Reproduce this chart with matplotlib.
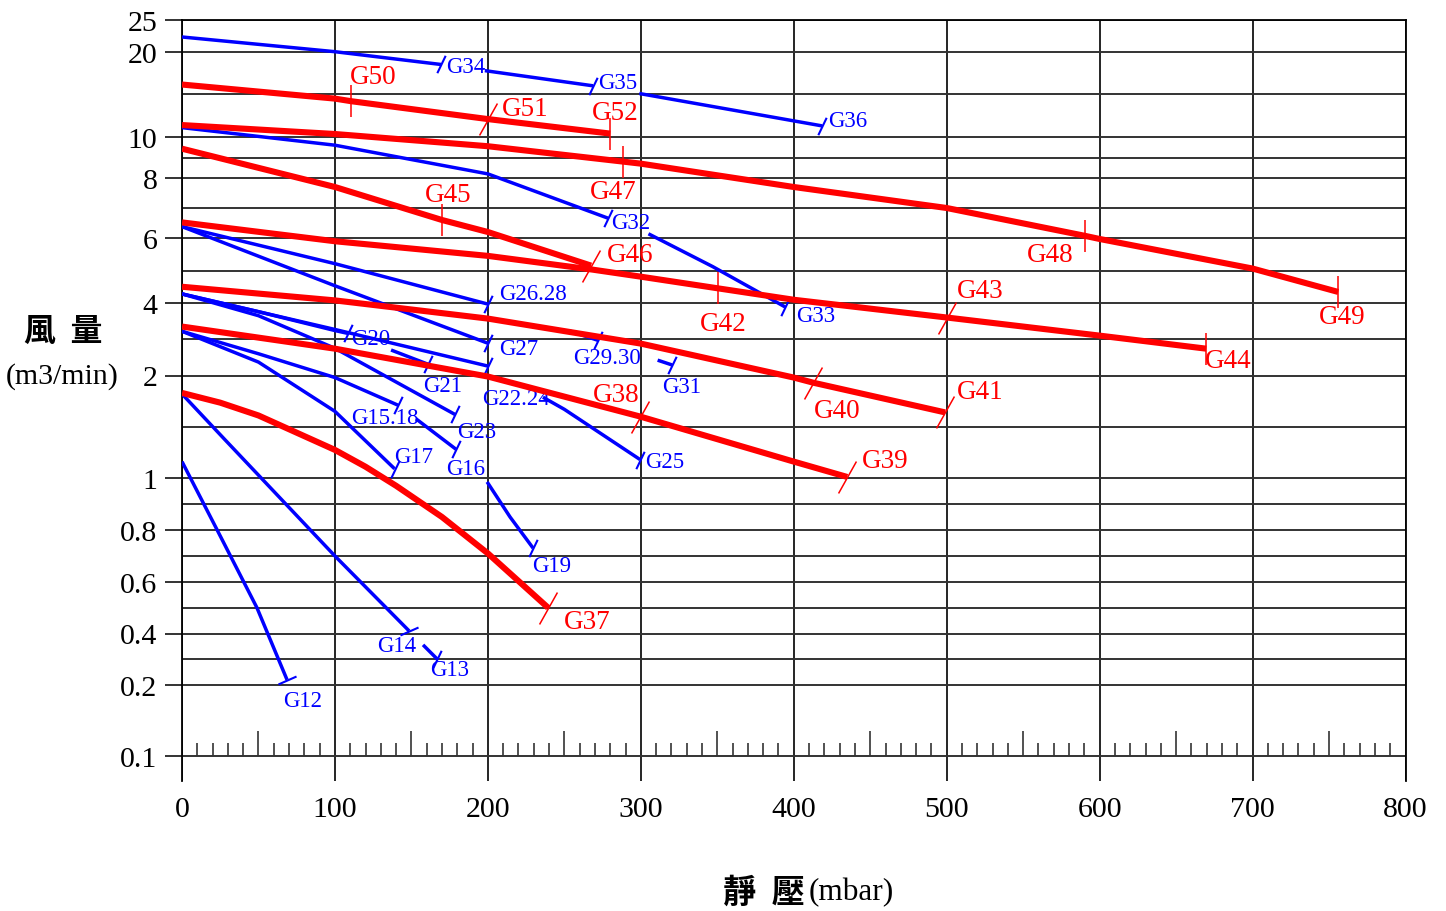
import numpy as np

import matplotlib
matplotlib.use('Agg')
import matplotlib.pyplot as plt
from matplotlib.path import Path

plt.rcParams['font.family'] = ['Liberation Serif', 'Noto Sans CJK TC']

# static pressure (mbar) and air flow (m3/min)
# blue curves
g34_p = [0, 100, 169.4, 268.8, 299, 418.6]
g34_q = [22.3, 20.0, 18.5, 16.0, 15.1, 11.3]
g34_marks = [('G34', 169.4), ('G35', 268.8), ('G36', 418.6)]

g32_p = [0, 100, 200, 278.6, 305, 347, 394.4]
g32_q = [11.1, 9.6, 8.2, 6.66, 6.14, 5.12, 3.89]
g32_marks = [('G32', 278.6), ('G33', 394.4)]

g26_p = [0, 100, 200, 272, 320.5]
g26_q = [6.38, 5.21, 3.97, 2.97, 2.29]
g26_marks = [('G26.28', 200), ('G29.30', 272), ('G31', 320.5)]

g27_p = [0, 100, 200]
g27_q = [6.38, 4.53, 2.89]
g27_marks = [('G27', 200)]

g22_p = [0, 100, 200, 250, 299.5]
g22_q = [4.28, 3.27, 2.26, 1.67, 1.18]
g22_marks = [('G22.24', 200), ('G25', 299.5)]

g20_p = [0, 50, 100, 108.6, 160.9]
g20_q = [4.28, 3.76, 3.24, 3.16, 2.31]
g20_marks = [('G20', 108.6), ('G21', 160.9)]

g23_p = [0, 50, 100, 178.5]
g23_q = [4.28, 3.65, 2.75, 1.62]
g23_marks = [('G23', 178.5)]

g15_p = [0, 50, 100, 141.3, 179.2, 199.5, 214.5, 229.6]
g15_q = [3.22, 2.6, 1.98, 1.71, 1.28, 0.985, 0.85, 0.73]
g15_marks = [('G15.18', 141.3), ('G16', 179.2), ('G19', 229.6)]

g17_p = [0, 50, 100, 139]
g17_q = [3.22, 2.37, 1.65, 1.09]
g17_marks = [('G17', 139)]

g14_p = [0, 28, 100, 148.5, 167]
g14_q = [1.82, 1.375, 0.70, 0.41, 0.30]
g14_marks = [('G14', 148.5), ('G13', 167)]

g12_p = [0, 23, 49, 68.7]
g12_q = [1.16, 0.8, 0.5, 0.22]
g12_marks = [('G12', 68.7)]

# red curves
g50_p = [0, 100, 110.5, 200, 280]
g50_q = [16.15, 14.5, 14.2, 12.1, 10.4]
g50_marks = [('G50', 110.5), ('G51', 200), ('G52', 280)]

g47_p = [0, 100, 200, 288.4, 300, 400, 500, 590.6, 600, 700, 756]
g47_q = [11.4, 10.35, 9.55, 8.8, 8.7, 7.7, 7.0, 6.07, 5.97, 5.06, 4.34]
g47_marks = [('G47', 288.4), ('G48', 590.6), ('G49', 756)]

g45_p = [0, 100, 170, 200, 267.5]
g45_q = [9.43, 7.7, 6.6, 6.2, 5.15]
g45_marks = [('G45', 170), ('G46', 267.5)]

g42_p = [0, 100, 200, 268, 300, 350.6, 400, 500, 600, 669.7]
g42_q = [6.52, 5.9, 5.45, 5.03, 4.81, 4.45, 4.1, 3.6, 3.1, 2.74]
g42_marks = [('G42', 350.6), ('G43', 500.3), ('G44', 669.7)]

g40_p = [0, 100, 200, 300, 400, 412.7, 499]
g40_q = [4.5, 4.08, 3.57, 2.88, 1.98, 1.93, 1.64]
g40_marks = [('G40', 412.7), ('G41', 499)]

g38_p = [0, 100, 200, 299.5, 400, 435]
g38_q = [3.35, 2.74, 1.99, 1.6, 1.16, 1.01]
g38_marks = [('G38', 299.5), ('G39', 435)]

g37_p = [0, 25, 50, 100, 120, 140, 170, 200, 239.4]
g37_q = [1.83, 1.735, 1.61, 1.274, 1.11, 0.97, 0.85, 0.71, 0.50]
g37_marks = [('G37', 239.4)]

x_ticks = list(range(0, 801, 100))
y_major = [0.1, 0.2, 0.4, 0.6, 0.8, 1, 2, 4, 6, 8, 10, 20, 25]
y_labels = ['0.1', '0.2', '0.4', '0.6', '0.8', '1', '2', '4', '6', '8', '10', '20', '25']
y_minor = [0.3, 0.5, 0.7, 0.9, 1.5, 3, 5, 7, 9, 15]

blue = [(g34_p, g34_q, g34_marks), (g32_p, g32_q, g32_marks),
        (g26_p, g26_q, g26_marks), (g27_p, g27_q, g27_marks),
        (g22_p, g22_q, g22_marks), (g20_p, g20_q, g20_marks),
        (g23_p, g23_q, g23_marks), (g15_p, g15_q, g15_marks),
        (g17_p, g17_q, g17_marks), (g14_p, g14_q, g14_marks),
        (g12_p, g12_q, g12_marks)]
red = [(g50_p, g50_q, g50_marks), (g47_p, g47_q, g47_marks),
       (g45_p, g45_q, g45_marks), (g42_p, g42_q, g42_marks),
       (g40_p, g40_q, g40_marks), (g38_p, g38_q, g38_marks),
       (g37_p, g37_q, g37_marks)]

# pieces of curves left blank where the labels sit
gaps = {'G34': (169.4, 198), 'G35': (268.8, 299), 'G32': (278.6, 305),
        'G26.28': (200, 253), 'G29.30': (272, 311), 'G22.24': (200, 236),
        'G20': (108.6, 136.7), 'G15.18': (141.3, 153), 'G16': (179.2, 199.5),
        'G14': (148.5, 157.6)}

# label offset from its mark, in pixels (x right, y up)
label_off = {'G34': (25, -2), 'G35': (25, 3), 'G36': (25, 5), 'G32': (23, -4),
             'G33': (31, -9), 'G26.28': (45, 11), 'G27': (31, -5),
             'G22.24': (28, -32), 'G25': (25, -2), 'G29.30': (9, -17),
             'G31': (9, -22), 'G20': (23, -5), 'G21': (15, -21), 'G23': (22, -17),
             'G15.18': (-13, -12), 'G16': (10, -19), 'G17': (19, 12),
             'G19': (19, -17), 'G14': (-12, -15), 'G13': (12, -10),
             'G12': (16, -21),
             'G50': (22, 25), 'G51': (37, 11), 'G52': (5, 21), 'G47': (-10, -30),
             'G45': (6, 26), 'G46': (39, 11), 'G42': (5, -35), 'G48': (-35, -19),
             'G49': (4, -25), 'G43': (33, 27), 'G44': (22, -12), 'G40': (24, -28),
             'G41': (35, 21), 'G38': (-24, 22), 'G39': (38, 16), 'G37': (39, -14)}

upright = ['G50', 'G52', 'G47', 'G48', 'G49', 'G45', 'G42', 'G44']
capped = ['G12', 'G14']

# the y axis of the original is stretched piecewise: value -> height (px)
y_vals = [0.0, 0.1, 0.2, 0.4, 0.6, 0.8, 1, 2, 4, 6, 8, 10, 20, 25]
y_pix = [0, 25, 96, 147.5, 199, 251, 303, 405.5, 478, 543, 603, 644, 729.3, 761.3]


def fwd(v):
    return np.interp(v, y_vals, y_pix)


def inv(h):
    return np.interp(h, y_pix, y_vals)


def q_at(p, q, x):
    return float(inv(np.interp(x, p, fwd(np.asarray(q, float)))))


def pieces(p, q, marks):
    p = np.asarray(p, float)
    q = np.asarray(q, float)
    cuts = [p[0]]
    for name, _ in marks:
        if name in gaps:
            cuts += list(gaps[name])
    cuts.append(p[-1])
    out = []
    for lo, hi in zip(cuts[0::2], cuts[1::2]):
        inner = (p > lo) & (p < hi)
        xs = np.r_[lo, p[inner], hi]
        ys = np.r_[q_at(p, q, lo), q[inner], q_at(p, q, hi)]
        out.append((xs, ys))
    return out


vbar = Path([(0, -0.5), (0, 0.5)], [Path.MOVETO, Path.LINETO])
rslash = Path([(-0.28, -0.5), (0.28, 0.5)], [Path.MOVETO, Path.LINETO])
bslash = Path([(-0.24, -0.5), (0.24, 0.5)], [Path.MOVETO, Path.LINETO])
bcap = Path([(-0.5, -0.22), (0.5, 0.22)], [Path.MOVETO, Path.LINETO])

fig = plt.figure(figsize=(14.46, 9.12), dpi=100)
ax = fig.add_axes([182 / 1446, 1 - 782 / 912, 1223.5 / 1446, 761.3 / 912])
ax.set_yscale('function', functions=(fwd, inv))
ax.set_xlim(0, 800)
ax.set_ylim(0, 25)

ax.set_xticks(x_ticks)
ax.set_yticks(y_major, labels=y_labels)
ax.set_yticks(y_minor, minor=True)
ax.tick_params(axis='y', which='major', length=12.2, width=1.4, color='#333333',
               pad=5.5, labelsize=21.5)
ax.tick_params(axis='y', which='minor', length=0)
ax.tick_params(axis='x', length=0, pad=11, labelsize=21.5)
ax.grid(True, axis='y', which='both', color='#333333', lw=1.4)
ax.grid(True, axis='x', color='black', lw=1.2)
ax.set_axisbelow(True)
ax.spines['bottom'].set_visible(False)
for s in ['left', 'right', 'top']:
    ax.spines[s].set_linewidth(1.3)

# small ticks sitting on the 0.1 line
base = fwd(0.1) / fwd(25)
small = [x for x in range(10, 800, 10) if x % 50]
mid = [x for x in range(50, 800, 100)]
ax.vlines(small, base, base + 13 / 761.3, transform=ax.get_xaxis_transform(),
          color='#333333', lw=1.2)
ax.vlines(mid, base, base + 25 / 761.3, transform=ax.get_xaxis_transform(),
          color='#333333', lw=1.2)

for p, q, marks in blue:
    for xs, ys in pieces(p, q, marks):
        ax.plot(xs, ys, color='#0000ff', lw=2.5, solid_capstyle='butt', zorder=3)
    for name, x in marks:
        y = q_at(p, q, x)
        if name in capped:
            ax.plot([x], [y], ls='none', marker=bcap, ms=13, mew=1.5,
                    mec='#0000ff', zorder=3.5)
        else:
            ax.plot([x], [y], ls='none', marker=bslash, ms=12.5, mew=1.5,
                    mec='#0000ff', zorder=3.5)
        dx, dy = label_off[name]
        ax.annotate(name, (x, y), xytext=(dx * 0.72, dy * 0.72),
                    textcoords='offset points', ha='center', va='center',
                    fontsize=16.5, color='#0000ff', zorder=4)

for p, q, marks in red:
    for xs, ys in pieces(p, q, marks):
        ax.plot(xs, ys, color='#ff0000', lw=4.4, solid_capstyle='butt', zorder=5)
    for name, x in marks:
        y = q_at(p, q, x)
        mk = vbar if name in upright else rslash
        ax.plot([x], [y], ls='none', marker=mk, ms=23, mew=1.1,
                mec='#ff0000', zorder=5.5)
        dx, dy = label_off[name]
        ax.annotate(name, (x, y), xytext=(dx * 0.72, dy * 0.72),
                    textcoords='offset points', ha='center', va='center',
                    fontsize=19.5, color='#ff0000', zorder=6)

fig.text(63 / 1446, 1 - 332 / 912, '風  量', ha='center', va='center',
         fontsize=23, fontweight='bold', family='Noto Sans CJK TC')
fig.text(62 / 1446, 1 - 377 / 912, '(m3/min)', ha='center', va='center',
         fontsize=21.5)
fig.text(805 / 1446, 1 - 893 / 912, '靜  壓', ha='right', va='center',
         fontsize=24, fontweight='bold', family='Noto Sans CJK TC')
fig.text(809 / 1446, 1 - 893 / 912, '(mbar)', ha='left', va='center',
         fontsize=22.5)

fig.savefig('out.png', dpi=100)
